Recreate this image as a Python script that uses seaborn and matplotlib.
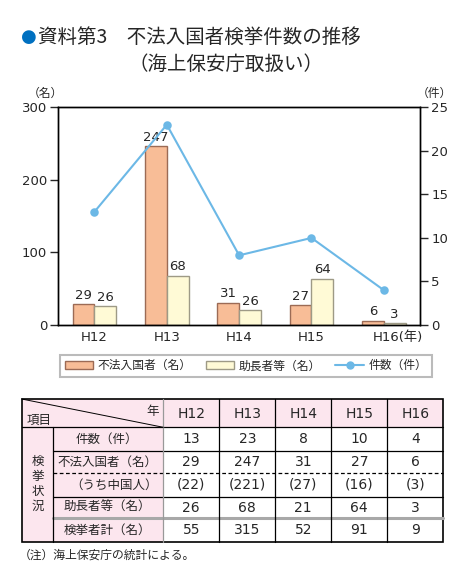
import numpy as np
import pandas as pd
import seaborn as sns
import matplotlib.pyplot as plt
from matplotlib.patches import Patch, Rectangle
from matplotlib.lines import Line2D
from matplotlib.transforms import ScaledTranslation

# data
years = ["H12", "H13", "H14", "H15", "H16"]
cases = [13, 23, 8, 10, 4]                # 件数（件）
illegal = [29, 247, 31, 27, 6]            # 不法入国者（名）
chinese = [22, 221, 27, 16, 3]            # うち中国人
helpers = [26, 68, 21, 64, 3]             # 助長者等（名）
total = [55, 315, 52, 91, 9]              # 検挙者計（名）
illegal_labels = ["29", "247", "31", "27", "6"]
helper_labels = ["26", "68", "26", "64", "3"]   # as printed on the chart

sns.set_style("white")
plt.rcParams["font.family"] = ["DejaVu Sans", "Noto Sans CJK JP"]
cjk = ["Noto Sans CJK JP", "DejaVu Sans"]

orange, orange_edge = "#F8BD97", "#9C6B55"
yellow, yellow_edge = "#FFFAD6", "#9E9A86"
blue = "#6CB8E6"

df = pd.DataFrame({
    "year": years * 2,
    "kind": ["不法入国者（名）"] * 5 + ["助長者等（名）"] * 5,
    "value": illegal + helpers,
})
df_line = pd.DataFrame({"year": years, "cases": cases})

fig = plt.figure(figsize=(4.67, 5.79), dpi=100)
W, H = 467, 579
ax = fig.add_axes([58.3 / W, 1 - 325 / H, (420 - 58.3) / W, (325 - 107.3) / H])

sns.barplot(data=df, x="year", y="value", hue="kind", palette=[orange, yellow],
            width=0.6, ax=ax, legend=False, saturation=1)
for cont, ec, labs in zip(ax.containers, [orange_edge, yellow_edge], [illegal_labels, helper_labels]):
    for p, lab in zip(cont.patches, labs):
        p.set_edgecolor(ec)
        p.set_linewidth(1.0)
        ax.text(p.get_x() + p.get_width() / 2, p.get_height() + 3, lab,
                ha="center", va="bottom", fontsize=9.5)

ax.set_ylim(0, 300)
ax.set_xlim(-0.5, 4.5)
ax.set_yticks([0, 100, 200, 300])
ax.set_xlabel("")
ax.set_ylabel("")
ax.tick_params(axis="y", direction="out", length=6, width=1, labelsize=9.5, left=True, pad=2)
ax.tick_params(axis="x", length=0, labelsize=9.5, pad=4)
ax.set_xticks(range(5))
ax.set_xticklabels(years[:-1] + ["H16(年)"])
last = ax.get_xticklabels()[-1]
last.set_transform(last.get_transform() + ScaledTranslation(0.14, 0, fig.dpi_scale_trans))
for s in ax.spines.values():
    s.set_visible(True)
    s.set_color("black")
    s.set_linewidth(1.0)

ax2 = ax.twinx()
sns.pointplot(data=df_line, x="year", y="cases", color=blue, ax=ax2,
              markers="o", markersize=5, linewidth=1.5)
ax2.set_ylim(0, 25)
ax2.set_xlim(-0.5, 4.5)
ax2.set_yticks([0, 5, 10, 15, 20, 25])
ax2.set_ylabel("")
ax2.set_xlabel("")
ax2.tick_params(axis="y", direction="out", length=6, width=1, labelsize=9.5, right=True, pad=2)
for s in ax2.spines.values():
    s.set_color("black")
    s.set_linewidth(1.0)

handles = [Patch(facecolor=orange, edgecolor=orange_edge),
           Patch(facecolor=yellow, edgecolor=yellow_edge),
           Line2D([], [], color=blue, marker="o", markersize=5, linewidth=1.5)]
leg = ax.legend(handles, ["不法入国者（名）", "助長者等（名）", "件数（件）"],
                loc="lower left", bbox_to_anchor=(60 / W, 1 - 377 / H, 372 / W, 28 / H),
                bbox_transform=fig.transFigure, mode="expand", ncol=3, fancybox=False,
                edgecolor="#AAAAAA", borderaxespad=0, handlelength=2.4, handletextpad=0.4,
                columnspacing=0.8, prop={"family": cjk, "size": 8.5})
leg.get_frame().set_linewidth(1.5)

# overlay in pixel coords for titles and table
ov = fig.add_axes([0, 0, 1, 1])
ov.set_xlim(0, W)
ov.set_ylim(H, 0)
ov.axis("off")

ov.text(21, 37, "●", color="#0070C0", fontsize=13, va="center", ha="left")
ov.text(38, 37, "資料第3　不法入国者検挙件数の推移", fontsize=14, va="center", ha="left", family=cjk)
ov.text(128, 64, "（海上保安庁取扱い）", fontsize=14, va="center", ha="left", family=cjk)
ov.text(45, 93, "（名）", fontsize=8.5, va="center", ha="center", family=cjk)
ov.text(434, 93, "（件）", fontsize=8.5, va="center", ha="center", family=cjk)

# table
pink = "#FCE6EE"
xs = [21.7, 53.3, 163.3, 219.3, 275.3, 331.3, 387.3, 443.3]
ys = [399, 427.3, 450.7, 473.3, 496.7, 518.3, 542]
ov.add_patch(Rectangle((xs[0], ys[0]), xs[-1] - xs[0], ys[1] - ys[0], facecolor=pink, edgecolor="none"))
ov.add_patch(Rectangle((xs[0], ys[1]), xs[2] - xs[0], ys[-1] - ys[1], facecolor=pink, edgecolor="none"))
lw = 0.9
for y in ys[1:3]:
    ov.plot([xs[0] if y == ys[1] else xs[1], xs[-1]], [y, y], color="black", lw=lw)
ov.plot([xs[1], xs[-1]], [ys[3], ys[3]], color="black", lw=lw, ls=(0, (3, 2)))
ov.plot([xs[1], xs[-1]], [ys[4], ys[4]], color="black", lw=lw)
ov.plot([xs[1], xs[-1]], [ys[5], ys[5]], color="#A8A8A8", lw=2.2)
ov.plot([xs[1], xs[1]], [ys[1], ys[-1]], color="black", lw=lw)
for x in xs[2:-1]:
    ov.plot([x, x], [ys[0], ys[-1]], color="#999999" if x == xs[2] else "black", lw=lw)
ov.add_patch(Rectangle((xs[0], ys[0]), xs[-1] - xs[0], ys[-1] - ys[0], facecolor="none",
                       edgecolor="black", lw=1.2))
ov.plot([xs[0], xs[2]], [ys[0], ys[1]], color="black", lw=0.7)
ov.text(xs[2] - 4, 411, "年", fontsize=9, ha="right", va="center", family=cjk)
ov.text(xs[0] + 5, 420, "項目", fontsize=9, ha="left", va="center", family=cjk)
for j, yr in enumerate(years):
    ov.text((xs[j + 2] + xs[j + 3]) / 2, 414, yr, fontsize=10, ha="center", va="center")

ov.text((xs[0] + xs[1]) / 2, 484, "検\n挙\n状\n況", fontsize=9, ha="center", va="center",
        linespacing=1.2, family=cjk)
row_labels = ["件数（件）", "不法入国者（名）", "（うち中国人）", "助長者等（名）", "検挙者計（名）"]
rows = [[str(v) for v in cases], [str(v) for v in illegal], [f"({v})" for v in chinese],
        [str(v) for v in helpers], [str(v) for v in total]]
for i, (lab, vals) in enumerate(zip(row_labels, rows)):
    yc = (ys[i + 1] + ys[i + 2]) / 2
    if i == 2:
        ov.text(xs[2] - 6, yc, lab, fontsize=9, ha="right", va="center", family=cjk)
    else:
        ov.text((xs[1] + xs[2]) / 2 - 1, yc, lab, fontsize=9, ha="center", va="center", family=cjk)
    for j, v in enumerate(vals):
        ov.text((xs[j + 2] + xs[j + 3]) / 2, yc, v, fontsize=10, ha="center", va="center")

ov.text(19, 555, "（注）海上保安庁の統計による。", fontsize=8.5, ha="left", va="center", family=cjk)

fig.savefig("out.png", dpi=100)
